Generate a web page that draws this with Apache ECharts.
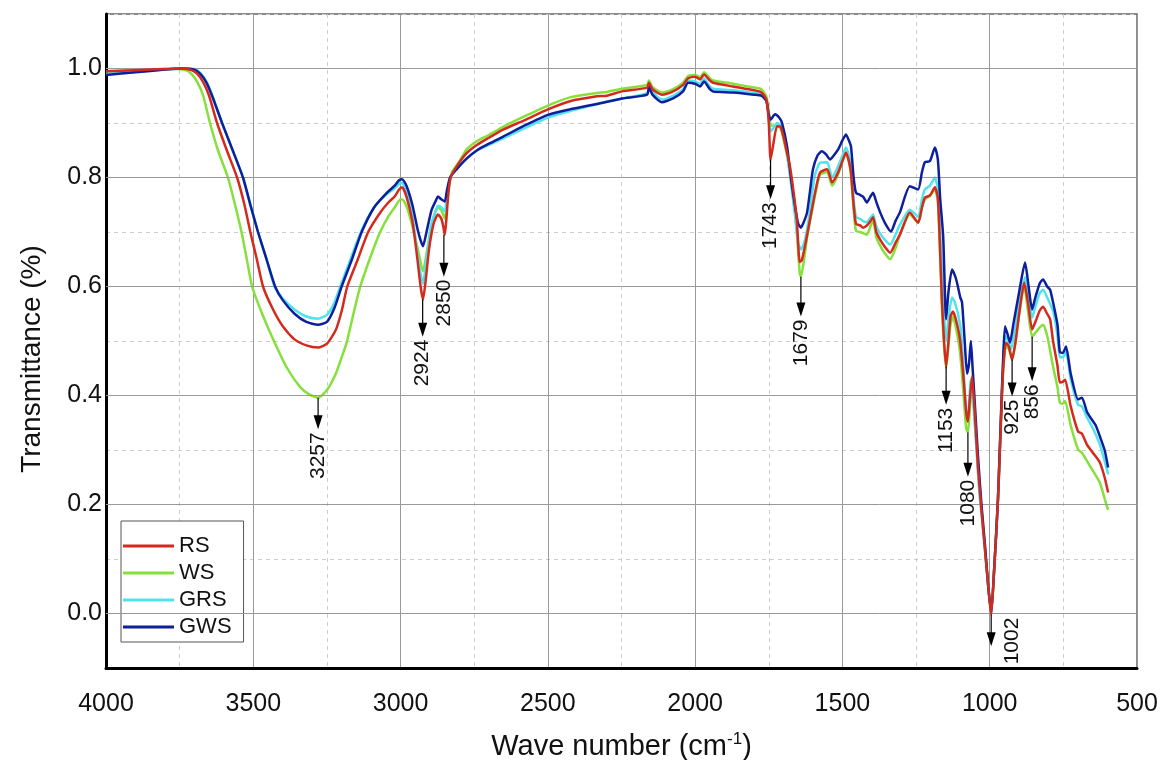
<!DOCTYPE html>
<html>
<head>
<meta charset="utf-8">
<script src="https://cdn.jsdelivr.net/npm/echarts@6/dist/echarts.min.js"></script>
<style>
html,body{margin:0;padding:0;background:#fff;}
#chart{width:1163px;height:760px;}
</style>
</head>
<body>
<div id="chart"></div>
<script>
// ---------- DATA ----------
const seriesNames = ['RS', 'WS', 'GRS', 'GWS'];
const yMajorTicks = [0, 0.2, 0.4, 0.6, 0.8, 1.0];

const rsData = [[4000,0.995],[3900,0.997],[3800,0.999],[3740,1.0],[3710,0.997],[3690,0.99],[3670,0.975],[3650,0.95],[3623,0.9],[3590,0.85],[3555,0.8],[3530,0.75],[3510,0.7],[3488,0.65],[3467,0.6],[3435,0.56],[3400,0.527],[3360,0.503],[3320,0.492],[3280,0.488],[3250,0.495],[3220,0.52],[3200,0.555],[3181,0.6],[3145,0.65],[3110,0.7],[3070,0.735],[3040,0.755],[3020,0.765],[3005,0.778],[2995,0.782],[2980,0.765],[2960,0.72],[2945,0.66],[2932,0.6],[2924,0.576],[2915,0.61],[2903,0.67],[2888,0.715],[2873,0.732],[2862,0.725],[2855,0.71],[2850,0.695],[2845,0.72],[2838,0.77],[2830,0.8],[2810,0.82],[2775,0.845],[2740,0.86],[2700,0.873],[2652,0.888],[2580,0.905],[2500,0.925],[2425,0.94],[2333,0.949],[2300,0.95],[2248,0.958],[2163,0.965],[2157,0.974],[2145,0.962],[2113,0.952],[2075,0.958],[2041,0.97],[2024,0.982],[2000,0.985],[1983,0.98],[1970,0.989],[1950,0.978],[1939,0.974],[1872,0.967],[1800,0.96],[1775,0.956],[1758,0.943],[1750,0.9],[1744,0.833],[1735,0.86],[1722,0.894],[1710,0.893],[1700,0.875],[1690,0.85],[1678,0.82],[1665,0.77],[1655,0.723],[1645,0.645],[1638,0.648],[1625,0.68],[1610,0.723],[1590,0.78],[1576,0.809],[1552,0.815],[1535,0.791],[1515,0.809],[1500,0.83],[1488,0.846],[1478,0.83],[1471,0.809],[1462,0.75],[1454,0.715],[1440,0.712],[1430,0.708],[1417,0.712],[1405,0.72],[1396,0.727],[1385,0.7],[1372,0.686],[1355,0.672],[1338,0.662],[1320,0.68],[1305,0.695],[1271,0.736],[1243,0.717],[1230,0.745],[1220,0.763],[1203,0.767],[1186,0.782],[1176,0.762],[1168,0.66],[1162,0.571],[1155,0.5],[1148,0.453],[1140,0.5],[1133,0.545],[1125,0.554],[1115,0.54],[1101,0.503],[1090,0.44],[1080,0.37],[1074,0.352],[1068,0.39],[1060,0.435],[1052,0.38],[1040,0.27],[1028,0.19],[1016,0.117],[1005,0.05],[995,-0.002],[985,0.08],[972,0.209],[962,0.35],[955,0.442],[945,0.497],[935,0.49],[924,0.466],[912,0.5],[900,0.55],[883,0.607],[870,0.57],[856,0.521],[845,0.535],[830,0.556],[819,0.563],[805,0.55],[795,0.54],[785,0.5],[770,0.455],[762,0.424],[752,0.425],[744,0.429],[725,0.38],[700,0.334],[687,0.33],[670,0.31],[650,0.295],[626,0.277],[610,0.25],[598,0.222]];

const wsData = [[4000,0.995],[3900,0.997],[3800,0.999],[3760,0.999],[3730,0.997],[3710,0.99],[3690,0.975],[3670,0.95],[3647,0.9],[3620,0.85],[3586,0.8],[3562,0.75],[3540,0.7],[3522,0.65],[3504,0.6],[3470,0.55],[3430,0.5],[3385,0.45],[3340,0.415],[3310,0.402],[3280,0.396],[3250,0.41],[3220,0.44],[3200,0.47],[3183,0.497],[3160,0.55],[3138,0.598],[3105,0.65],[3070,0.699],[3040,0.73],[3020,0.745],[3000,0.76],[2990,0.758],[2975,0.74],[2955,0.7],[2938,0.66],[2924,0.628],[2912,0.66],[2898,0.705],[2883,0.735],[2873,0.745],[2862,0.74],[2850,0.725],[2843,0.75],[2835,0.785],[2825,0.81],[2800,0.83],[2775,0.852],[2740,0.867],[2700,0.878],[2652,0.893],[2580,0.912],[2500,0.932],[2425,0.947],[2333,0.955],[2300,0.957],[2248,0.963],[2163,0.97],[2157,0.978],[2145,0.966],[2113,0.956],[2075,0.962],[2041,0.974],[2024,0.986],[2000,0.988],[1983,0.984],[1970,0.993],[1950,0.982],[1939,0.978],[1872,0.972],[1800,0.965],[1775,0.962],[1758,0.948],[1750,0.92],[1744,0.897],[1735,0.895],[1722,0.895],[1710,0.89],[1700,0.87],[1690,0.845],[1678,0.81],[1665,0.755],[1655,0.7],[1645,0.625],[1641,0.618],[1630,0.65],[1620,0.69],[1610,0.72],[1590,0.775],[1576,0.805],[1552,0.81],[1535,0.785],[1515,0.805],[1500,0.83],[1488,0.845],[1478,0.828],[1471,0.805],[1462,0.74],[1454,0.702],[1440,0.7],[1430,0.698],[1417,0.695],[1405,0.71],[1396,0.722],[1385,0.69],[1372,0.675],[1355,0.66],[1338,0.65],[1320,0.67],[1305,0.695],[1271,0.732],[1243,0.717],[1230,0.745],[1220,0.76],[1203,0.766],[1186,0.778],[1176,0.755],[1168,0.65],[1162,0.56],[1155,0.49],[1148,0.45],[1140,0.49],[1133,0.53],[1125,0.545],[1115,0.525],[1101,0.48],[1090,0.41],[1080,0.34],[1074,0.332],[1068,0.37],[1060,0.42],[1052,0.37],[1040,0.27],[1028,0.19],[1016,0.117],[1005,0.05],[995,0.0],[985,0.08],[972,0.209],[962,0.35],[955,0.44],[945,0.49],[935,0.485],[924,0.465],[912,0.5],[900,0.55],[883,0.6],[870,0.555],[856,0.508],[845,0.515],[830,0.525],[819,0.53],[805,0.51],[785,0.453],[770,0.415],[762,0.387],[752,0.385],[744,0.39],[725,0.345],[700,0.301],[687,0.295],[670,0.28],[650,0.262],[626,0.24],[609,0.209],[598,0.19]];

const grsData = [[4000,0.99],[3900,0.994],[3800,0.998],[3740,1.0],[3700,0.999],[3680,0.992],[3660,0.977],[3640,0.952],[3606,0.9],[3570,0.85],[3535,0.8],[3510,0.75],[3484,0.7],[3455,0.65],[3428,0.6],[3400,0.578],[3360,0.558],[3320,0.545],[3280,0.541],[3250,0.548],[3225,0.57],[3205,0.6],[3170,0.65],[3135,0.7],[3090,0.745],[3050,0.768],[3020,0.78],[3005,0.788],[2995,0.79],[2980,0.775],[2960,0.73],[2940,0.65],[2924,0.605],[2912,0.65],[2895,0.715],[2880,0.74],[2873,0.748],[2862,0.745],[2850,0.738],[2843,0.765],[2832,0.8],[2810,0.815],[2775,0.835],[2740,0.85],[2700,0.86],[2652,0.872],[2580,0.89],[2500,0.91],[2425,0.922],[2333,0.935],[2248,0.945],[2163,0.955],[2157,0.969],[2145,0.957],[2113,0.943],[2075,0.95],[2041,0.962],[2024,0.978],[2000,0.976],[1983,0.972],[1970,0.981],[1950,0.967],[1939,0.963],[1872,0.96],[1800,0.955],[1775,0.952],[1758,0.94],[1750,0.91],[1744,0.885],[1735,0.89],[1722,0.9],[1710,0.895],[1700,0.88],[1688,0.845],[1675,0.79],[1661,0.73],[1650,0.68],[1641,0.668],[1630,0.68],[1620,0.705],[1610,0.74],[1595,0.8],[1576,0.827],[1552,0.828],[1535,0.8],[1515,0.82],[1500,0.84],[1488,0.855],[1478,0.84],[1471,0.82],[1462,0.76],[1454,0.728],[1440,0.724],[1430,0.72],[1417,0.718],[1405,0.726],[1396,0.732],[1385,0.71],[1372,0.697],[1355,0.685],[1338,0.677],[1320,0.695],[1305,0.713],[1271,0.741],[1243,0.728],[1230,0.76],[1220,0.778],[1203,0.785],[1186,0.8],[1176,0.778],[1168,0.7],[1160,0.6],[1148,0.5],[1140,0.54],[1128,0.58],[1118,0.57],[1108,0.55],[1098,0.52],[1088,0.44],[1080,0.37],[1074,0.36],[1064,0.43],[1055,0.38],[1045,0.3],[1035,0.22],[1020,0.14],[1005,0.05],[995,0.0],[985,0.08],[972,0.21],[962,0.36],[955,0.45],[948,0.51],[938,0.5],[928,0.485],[915,0.52],[900,0.57],[880,0.617],[868,0.58],[856,0.543],[845,0.563],[830,0.588],[819,0.594],[805,0.58],[785,0.555],[770,0.51],[762,0.47],[752,0.47],[741,0.48],[725,0.43],[700,0.383],[687,0.38],[670,0.36],[650,0.34],[626,0.31],[610,0.28],[598,0.255]];

const gwsData = [[4000,0.988],[3900,0.993],[3800,0.998],[3740,1.0],[3700,0.998],[3680,0.99],[3660,0.975],[3640,0.95],[3606,0.9],[3570,0.85],[3535,0.8],[3510,0.75],[3484,0.7],[3455,0.65],[3426,0.6],[3400,0.575],[3360,0.55],[3320,0.535],[3280,0.53],[3250,0.535],[3225,0.56],[3200,0.6],[3165,0.65],[3132,0.7],[3090,0.745],[3050,0.77],[3020,0.785],[3005,0.795],[2995,0.797],[2980,0.785],[2960,0.75],[2940,0.7],[2924,0.674],[2912,0.7],[2895,0.74],[2880,0.758],[2873,0.765],[2862,0.76],[2850,0.756],[2843,0.775],[2832,0.8],[2810,0.815],[2775,0.835],[2740,0.85],[2700,0.862],[2652,0.875],[2580,0.895],[2500,0.915],[2425,0.925],[2333,0.935],[2248,0.945],[2163,0.952],[2157,0.966],[2145,0.952],[2113,0.938],[2075,0.945],[2041,0.958],[2024,0.974],[2000,0.972],[1983,0.967],[1970,0.976],[1950,0.962],[1939,0.958],[1872,0.956],[1800,0.952],[1775,0.95],[1758,0.94],[1750,0.915],[1744,0.906],[1729,0.916],[1715,0.91],[1705,0.9],[1688,0.857],[1675,0.8],[1661,0.747],[1650,0.715],[1641,0.708],[1630,0.72],[1620,0.736],[1610,0.775],[1600,0.815],[1585,0.84],[1570,0.848],[1555,0.842],[1542,0.833],[1530,0.84],[1515,0.851],[1500,0.868],[1488,0.879],[1478,0.868],[1471,0.857],[1462,0.8],[1454,0.772],[1440,0.768],[1430,0.765],[1417,0.754],[1405,0.765],[1396,0.772],[1385,0.755],[1372,0.736],[1355,0.716],[1335,0.701],[1320,0.72],[1305,0.736],[1271,0.784],[1243,0.778],[1230,0.81],[1220,0.828],[1203,0.83],[1186,0.855],[1176,0.833],[1168,0.76],[1158,0.692],[1148,0.54],[1140,0.59],[1128,0.631],[1118,0.62],[1111,0.607],[1100,0.58],[1094,0.571],[1085,0.5],[1077,0.44],[1070,0.46],[1064,0.5],[1058,0.45],[1050,0.38],[1040,0.29],[1028,0.2],[1016,0.125],[1005,0.05],[995,0.0],[985,0.08],[972,0.21],[962,0.36],[955,0.46],[948,0.527],[938,0.51],[931,0.497],[920,0.53],[900,0.59],[880,0.644],[868,0.6],[856,0.558],[845,0.58],[830,0.606],[819,0.613],[805,0.6],[795,0.594],[785,0.571],[770,0.53],[762,0.48],[752,0.478],[741,0.49],[725,0.44],[700,0.393],[687,0.396],[670,0.37],[660,0.361],[640,0.345],[626,0.325],[610,0.3],[598,0.268]];

// annotations: [label, wavenumber position, arrow start T, arrow tip T]
const annotLabels = ['3257', '2924', '2850', '1743', '1679', '1153', '1080', '1002', '925', '856'];
const annotX      = [3280, 2925, 2853, 1744, 1641, 1148, 1074, 995, 924, 856];
const annotStart  = [0.396, 0.576, 0.695, 0.833, 0.618, 0.453, 0.332, -0.002, 0.466, 0.508];
const annotEnd    = [0.338, 0.508, 0.618, 0.760, 0.545, 0.383, 0.251, -0.060, 0.398, 0.426];
const sideLabels  = ['1002'];

// ---------- CHART ----------
const FONT = 'Arial, "Liberation Sans", sans-serif';
const chart = echarts.init(document.getElementById('chart'), null, {renderer: 'canvas'});

function lineSeries(name, data, color, z) {
  return {
    name: name, type: 'line', data: data, showSymbol: false, symbol: 'none',
    smooth: 0.2, z: z,
    lineStyle: {color: color, width: 2.5}, itemStyle: {color: color},
    emphasis: {disabled: true}
  };
}

const option = {
  animation: false,
  backgroundColor: '#ffffff',
  textStyle: {fontFamily: FONT},
  grid: {
    left: 106, right: 26, top: 14, bottom: 92,
    containLabel: false, outerBoundsMode: 'none',
    show: true, borderColor: '#666', borderWidth: 1.5, backgroundColor: 'transparent'
  },
  legend: {
    data: seriesNames,
    orient: 'vertical',
    left: 121, top: 521,
    icon: 'rect', itemWidth: 51, itemHeight: 3, itemGap: 5,
    padding: [14, 12, 4, 2],
    backgroundColor: '#fff', borderColor: '#555', borderWidth: 1,
    textStyle: {fontSize: 22, lineHeight: 22, color: '#111', fontFamily: FONT}
  },
  xAxis: {
    type: 'value', inverse: true, min: 500, max: 4000, interval: 500,
    name: '{a|Wave number (cm}{s|-1}{a|)}',
    nameLocation: 'middle', nameGap: 63,
    nameTextStyle: {
      rich: {
        a: {fontSize: 29, fontFamily: FONT, color: '#111'},
        s: {fontSize: 17, fontFamily: FONT, color: '#111', verticalAlign: 'top', padding: [0, 0, 14, 0]}
      }
    },
    axisLine: {show: true, onZero: false, lineStyle: {color: '#000', width: 3}},
    axisTick: {show: false},
    axisLabel: {
      fontSize: 25, color: '#111', margin: 24, fontFamily: FONT,
      formatter: function (v) { return String(v); }
    },
    splitLine: {show: true, lineStyle: {color: '#999', width: 1}},
    minorTick: {show: false, splitNumber: 2},
    minorSplitLine: {show: true, lineStyle: {color: '#ccc', width: 1, type: [4, 4]}}
  },
  yAxis: {
    type: 'value', min: -0.1, max: 1.1, interval: 0.1,
    name: 'Transmittance (%)', nameLocation: 'middle', nameGap: 60, nameRotate: 90,
    nameTextStyle: {fontSize: 28, color: '#111', fontFamily: FONT, padding: [0, 36, 0, 0]},
    axisLine: {show: true, onZero: false, lineStyle: {color: '#000', width: 3}},
    axisTick: {show: false},
    axisLabel: {
      fontSize: 25, color: '#111', margin: 4, fontFamily: FONT,
      formatter: function (v) {
        const r = Math.round(v * 10);
        return (r >= 0 && r % 2 === 0 && r <= 10) ? (r / 10).toFixed(1) : '';
      }
    },
    splitLine: {show: true, lineStyle: {color: '#ccc', width: 1, type: [4, 4]}}
  },
  series: [
    {
      name: 'majorGrid', type: 'line', data: [], z: 1, silent: true,
      markLine: {
        silent: true, symbol: 'none', animation: false,
        label: {show: false},
        lineStyle: {color: '#999', width: 1, type: 'solid'},
        emphasis: {disabled: true},
        data: yMajorTicks.map(v => ({yAxis: v}))
      }
    },
    lineSeries('WS', wsData, '#86e03c', 3),
    lineSeries('GRS', grsData, '#4fe3ee', 4),
    lineSeries('GWS', gwsData, '#0d1f9c', 5),
    lineSeries('RS', rsData, '#d42a1e', 6),
    {
      name: 'annotations', type: 'custom', z: 10, silent: true, clip: false,
      encode: {x: 0, y: [1, 2]},
      data: annotLabels.map((l, i) => [annotX[i], annotStart[i], annotEnd[i]]),
      renderItem: function (params, api) {
        const i = params.dataIndex;
        const label = annotLabels[i];
        const p0 = api.coord([api.value(0), api.value(1)]);
        const p1 = api.coord([api.value(0), api.value(2)]);
        const headH = 14, headW = 4.5;
        const side = sideLabels.indexOf(label) >= 0;
        return {
          type: 'group',
          children: [
            {type: 'line', shape: {x1: p0[0], y1: p0[1], x2: p1[0], y2: p1[1] - headH + 1},
             style: {stroke: '#000', lineWidth: 1.2}},
            {type: 'polygon', shape: {points: [[p1[0] - headW, p1[1] - headH], [p1[0] + headW, p1[1] - headH], [p1[0], p1[1]]]},
             style: {fill: '#000'}},
            {type: 'text', x: side ? p1[0] + 21 : p1[0], y: side ? p0[1] + 3 : p1[1] + 3,
             rotation: Math.PI / 2,
             style: {text: label, fontSize: 21, fontFamily: FONT, fill: '#111', align: 'right', verticalAlign: 'middle'}}
          ]
        };
      }
    }
  ]
};
chart.setOption(option);
</script>
</body>
</html>
